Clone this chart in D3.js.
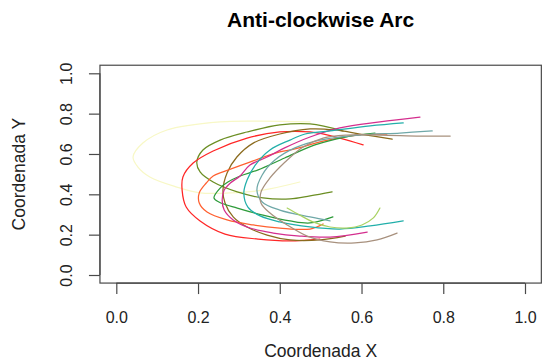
<!DOCTYPE html>
<html>
<head>
<meta charset="utf-8">
<script src="https://cdn.jsdelivr.net/npm/d3@7"></script>
<style>
  html, body { margin: 0; padding: 0; background: #fff; }
  svg { display: block; font-family: "Liberation Sans", Arial, Helvetica, sans-serif; }
</style>
</head>
<body>
<svg id="chart" width="542" height="361"></svg>
<script>
// Axis ticks
const xTicks = [0, 0.2, 0.4, 0.6, 0.8, 1.0];
const yTicks = [0, 0.2, 0.4, 0.6, 0.8, 1.0];

// Trajectories, one pair of coordinate arrays per arc
const paleX = [0.474, 0.352, 0.254, 0.124, 0.065, 0.041, 0.053, 0.082, 0.148, 0.205, 0.278, 0.359, 0.449];
const paleY = [0.759, 0.763, 0.759, 0.719, 0.654, 0.585, 0.535, 0.486, 0.436, 0.407, 0.407, 0.421, 0.461];

const oliveX = [0.555, 0.474, 0.400, 0.320, 0.254, 0.212, 0.197, 0.205, 0.237, 0.296, 0.359, 0.425, 0.474, 0.528];
const oliveY = [0.714, 0.749, 0.744, 0.709, 0.669, 0.620, 0.560, 0.511, 0.461, 0.412, 0.382, 0.377, 0.392, 0.412];

const redX = [0.604, 0.547, 0.474, 0.400, 0.320, 0.237, 0.188, 0.163, 0.161, 0.171, 0.205, 0.266, 0.347, 0.425, 0.498];
const redY = [0.645, 0.679, 0.709, 0.709, 0.679, 0.615, 0.555, 0.486, 0.421, 0.337, 0.268, 0.203, 0.178, 0.169, 0.178];

const brownX = [0.675, 0.596, 0.535, 0.474, 0.400, 0.335, 0.295, 0.271, 0.261, 0.266, 0.286, 0.320, 0.369, 0.425, 0.498, 0.560];
const brownY = [0.674, 0.699, 0.719, 0.724, 0.699, 0.654, 0.585, 0.506, 0.421, 0.357, 0.288, 0.238, 0.198, 0.174, 0.174, 0.193];

const orangeX = [0.662, 0.589, 0.506, 0.437, 0.400, 0.320, 0.261, 0.237, 0.220, 0.203, 0.203, 0.222, 0.271, 0.335, 0.400, 0.474, 0.506];
const orangeY = [0.699, 0.694, 0.664, 0.625, 0.610, 0.555, 0.511, 0.491, 0.456, 0.407, 0.357, 0.312, 0.273, 0.248, 0.233, 0.228, 0.253];

const greenX = [0.633, 0.560, 0.486, 0.412, 0.347, 0.303, 0.273, 0.254, 0.239, 0.251, 0.296, 0.359, 0.425, 0.474, 0.530];
const greenY = [0.704, 0.684, 0.645, 0.580, 0.521, 0.491, 0.461, 0.431, 0.382, 0.362, 0.332, 0.297, 0.268, 0.258, 0.288];

const magentaX = [0.743, 0.645, 0.547, 0.474, 0.412, 0.369, 0.327, 0.303, 0.279, 0.264, 0.259, 0.264, 0.286, 0.327, 0.384, 0.449, 0.523, 0.614];
const magentaY = [0.783, 0.759, 0.729, 0.684, 0.630, 0.585, 0.545, 0.491, 0.456, 0.421, 0.372, 0.322, 0.273, 0.233, 0.208, 0.193, 0.188, 0.213];

const tealX = [0.702, 0.621, 0.523, 0.462, 0.425, 0.376, 0.340, 0.320, 0.312, 0.322, 0.352, 0.400, 0.474, 0.547, 0.621, 0.702];
const tealY = [0.754, 0.739, 0.714, 0.699, 0.669, 0.620, 0.545, 0.471, 0.407, 0.337, 0.293, 0.263, 0.238, 0.228, 0.243, 0.268];

const slateX = [0.773, 0.694, 0.596, 0.498, 0.437, 0.388, 0.357, 0.344, 0.357, 0.400, 0.474, 0.523];
const slateY = [0.714, 0.704, 0.694, 0.669, 0.630, 0.570, 0.496, 0.421, 0.362, 0.322, 0.288, 0.268];

const taupeX = [0.817, 0.743, 0.645, 0.564, 0.506, 0.457, 0.413, 0.376, 0.354, 0.354, 0.376, 0.418, 0.467, 0.523, 0.584, 0.638, 0.687];
const taupeY = [0.689, 0.689, 0.694, 0.694, 0.679, 0.635, 0.560, 0.481, 0.411, 0.357, 0.307, 0.248, 0.193, 0.164, 0.159, 0.174, 0.208];

const limeX = [0.418, 0.449, 0.481, 0.523, 0.564, 0.601, 0.629, 0.645];
const limeY = [0.332, 0.297, 0.263, 0.238, 0.233, 0.248, 0.283, 0.332];

const arcsX = [paleX, oliveX, redX, brownX, orangeX, greenX, magentaX, tealX, slateX, taupeX, limeX];
const arcsY = [paleY, oliveY, redY, brownY, orangeY, greenY, magentaY, tealY, slateY, taupeY, limeY];

// Line colours, in the same order as the arcs
const palette = ["#F8F8C6", "#6B8E23", "#FF2626", "#8B6B1E", "#FF6030", "#2E9B3A",
                 "#D42E8E", "#22AFAA", "#6FA8A8", "#A8917E", "#A9D262"];

const svg = d3.select("#chart");

const x = d3.scaleLinear().domain([0, 1]).range([116.3, 525]);
const y = d3.scaleLinear().domain([0, 1]).range([275, 73.3]);

// Curves
const line = d3.line()
  .x(d => x(d[0]))
  .y(d => y(d[1]))
  .curve(d3.curveCatmullRom.alpha(0.5));

const plot = svg.append("g");
arcsX.forEach((xs, i) => {
  const pts = xs.map((v, j) => [v, arcsY[i][j]]);
  plot.append("path")
    .attr("d", line(pts))
    .attr("fill", "none")
    .attr("stroke", palette[i])
    .attr("stroke-width", 1.25)
    .attr("stroke-linejoin", "round")
    .attr("stroke-linecap", "round");
});

// Plot frame
const x0 = x(-0.04), x1 = x(1.04), y0 = y(-0.04), y1 = y(1.04);
svg.append("rect")
  .attr("x", x0).attr("y", y1)
  .attr("width", x1 - x0).attr("height", y0 - y1)
  .attr("fill", "none")
  .attr("stroke", "#4a4a4a")
  .attr("stroke-width", 1.2);

// Bottom axis
const gx = svg.append("g")
  .attr("transform", `translate(0,${y0})`)
  .call(d3.axisBottom(x).tickValues(xTicks).tickFormat(d3.format(".1f")).tickSize(11).tickPadding(0));
gx.select(".domain")
  .attr("d", `M${x(0)},0H${x(1)}`)
  .attr("stroke", "#4a4a4a").attr("stroke-width", 1.2);
gx.selectAll(".tick line").attr("stroke", "#4a4a4a").attr("stroke-width", 1.2);
gx.selectAll(".tick text")
  .attr("y", 40).attr("dy", null)
  .attr("fill", "#222")
  .style("font-size", "16px");

// Left axis, labels turned to read upward
const gy = svg.append("g")
  .attr("transform", `translate(${x0},0)`)
  .call(d3.axisLeft(y).tickValues(yTicks).tickFormat(d3.format(".1f")).tickSize(11).tickPadding(0));
gy.select(".domain")
  .attr("d", `M0,${y(0)}V${y(1)}`)
  .attr("stroke", "#4a4a4a").attr("stroke-width", 1.2);
gy.selectAll(".tick line").attr("stroke", "#4a4a4a").attr("stroke-width", 1.2);
gy.selectAll(".tick text")
  .attr("x", null).attr("dy", null)
  .attr("text-anchor", "middle")
  .attr("transform", "translate(-28,0) rotate(-90)")
  .attr("fill", "#222")
  .style("font-size", "16px");

// Titles
svg.append("text")
  .attr("x", (x0 + x1) / 2).attr("y", 27)
  .attr("text-anchor", "middle")
  .style("font-size", "21px").style("font-weight", "bold")
  .attr("fill", "#000")
  .text("Anti-clockwise Arc");

svg.append("text")
  .attr("x", (x0 + x1) / 2).attr("y", 357)
  .attr("text-anchor", "middle")
  .style("font-size", "17.5px")
  .attr("fill", "#222")
  .text("Coordenada X");

svg.append("text")
  .attr("transform", `translate(25,${(y0 + y1) / 2}) rotate(-90)`)
  .attr("text-anchor", "middle")
  .style("font-size", "17.5px")
  .attr("fill", "#222")
  .text("Coordenada Y");
</script>
</body>
</html>
